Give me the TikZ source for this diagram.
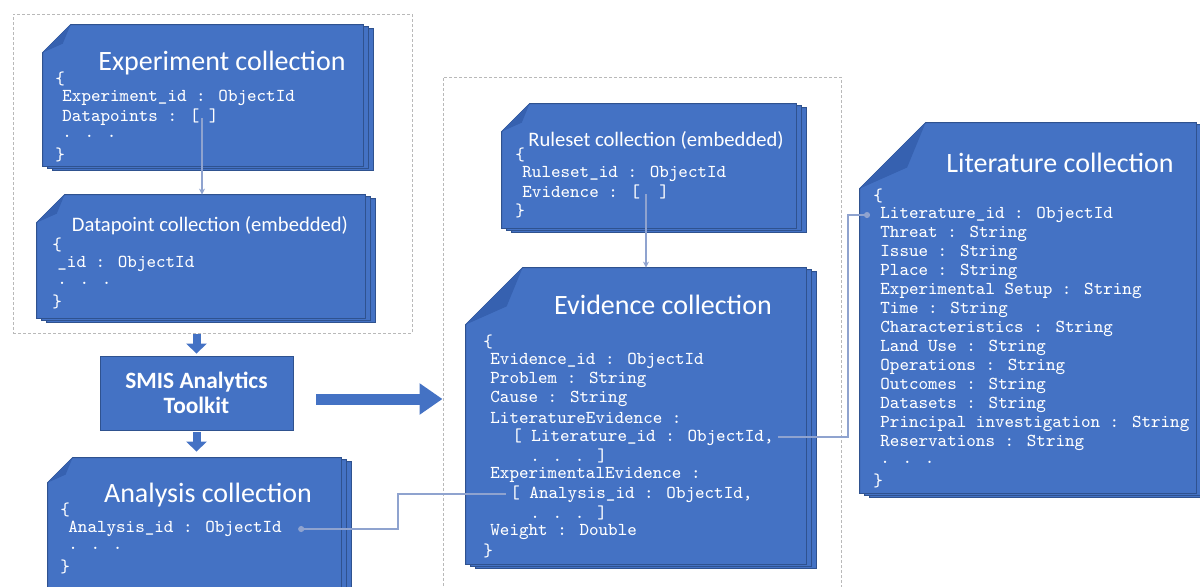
\documentclass[tikz,border=0pt]{standalone}
\usepackage{fontspec}
\setmainfont{Carlito}
\usetikzlibrary{calc}
\usetikzlibrary{fit}
\usetikzlibrary{arrows.meta}
\definecolor{collblue}{HTML}{4472C4}
\definecolor{colledge}{HTML}{2F528F}
\definecolor{collfold}{HTML}{3661B0}
\definecolor{linkblue}{RGB}{143,163,207}

\newcommand{\collshape}[2]{%
 \foreach \o/\p in {10/4,5/2}
  \filldraw[collback] ($(#1.north west)+(\o,#2+\p)$) -- ($(#1.north west)+(#2+\o,\p)$) -- ($(#1.north east)+(\o,\p)$) -- ($(#1.south east)+(\o,\p)$) -- ($(#1.south west)+(\o,\p)$) -- cycle;
 \filldraw[collback] ($(#1.north west)+(0,#2)$) -- ($(#1.north west)+(#2,0)$) -- (#1.north east) -- (#1.south east) -- (#1.south west) -- cycle;
 \fill[collfold] ($(#1.north west)+(0,#2)$) -- ($(#1.north west)+(#2,0)$) -- ($(#1.north west)+({.72*#2},{.68*#2})$) -- cycle;
}

\begin{document}
\begin{tikzpicture}[x=.5pt, y=-.5pt,
 grp/.style={draw=gray!55, line width=.5pt, dash pattern=on 1.5pt off 1pt, inner sep=0},
 area/.style={inner sep=0},
 collback/.style={fill=collblue, draw=colledge, line width=.4pt},
 colltitle/.style={text=white, font=\fontsize{14}{16}\selectfont},
 collsub/.style={text=white, font=\fontsize{10.3}{12}\selectfont},
 field/.style={text=white, anchor=west, inner sep=0, font=\ttfamily\fontsize{9.1}{10}\selectfont},
 link/.style={linkblue, line width=.8pt},
 blockarrow/.style={collblue, line width=4pt, -{Triangle[width=10pt,length=5pt]}},
]
\useasboundingbox (0,0) rectangle (1200,586);
\node[grp, fit={(13,14) (412,333)}] (grpl) {};
\node[grp, fit={(443,77) (841,620)}] (grpm) {};

\node[area, fit={(43,25) (363,166)}] (exp) {};
\node[area, fit={(37,195) (365,318)}] (dp) {};
\node[area, fit={(48,458) (341,600)}] (ana) {};
\node[area, fit={(502,104) (796,228)}] (rule) {};
\node[area, fit={(466,268) (806,564)}] (ev) {};
\node[area, fit={(860,123) (1196,493)}] (lit) {};
\collshape{exp}{28}
\collshape{dp}{28}
\collshape{ana}{25}
\collshape{rule}{28}
\collshape{ev}{57}
\collshape{lit}{66}

\node[colltitle] (exp-t) at (222,63) {Experiment collection};
\node[collsub] (dp-t) at (210,226) {Datapoint collection (embedded)};
\node[colltitle] (ana-t) at (208,495) {Analysis collection};
\node[collsub] (rule-t) at (656,140) {Ruleset collection (embedded)};
\node[colltitle] (ev-t) at (663,305) {Evidence collection};
\node[colltitle] (lit-t) at (1060,163) {Literature collection};

\foreach [count=\i] \dx/\t in {0/\{, 7/Experiment\_id : ObjectId, 7/Datapoints : [ ], 7/. . ., 0/\}}
 \node[field] (exp-\i) at ({55+\dx},{79+(\i-1)*19}) {\t};
\foreach [count=\i] \dx/\t in {0/\{, 5/\_id : ObjectId, 5/. . ., 0/\}}
 \node[field] (dp-\i) at ({52+\dx},{245+(\i-1)*19}) {\t};
\foreach [count=\i] \dx/\t in {0/\{, 8/Analysis\_id : ObjectId, 8/. . ., 0/\}}
 \node[field] (ana-\i) at ({60+\dx},{510+(\i-1)*19}) {\t};
\foreach [count=\i] \dx/\t in {0/\{, 7/Ruleset\_id : ObjectId, 7/Evidence : [\ \ ], 0/\}}
 \node[field] (rule-\i) at ({515+\dx},{155+(\i-1)*18.5}) {\t};
\foreach [count=\i] \dx/\t in {0/\{, 7/Evidence\_id : ObjectId, 7/Problem : String, 7/Cause : String,
  7/LiteratureEvidence :, 29/{[ Literature\_id : ObjectId,}, 47/. . . ], 7/ExperimentalEvidence :,
  27/{[ Analysis\_id : ObjectId,}, 47/. . . ], 7/Weight : Double, 0/\}}
 \node[field] (ev-\i) at ({483+\dx},{342+(\i-1)*19}) {\t};
\foreach [count=\i] \dx/\t in {0/\{, 7/Literature\_id : ObjectId, 7/Threat : String, 7/Issue : String,
  7/Place : String, 7/Experimental Setup : String, 7/Time : String, 7/Characteristics : String,
  7/Land Use : String, 7/Operations : String, 7/Outcomes : String, 7/Datasets : String,
  7/Principal investigation : String, 7/Reservations : String, 7/. . ., 0/\}}
 \node[field] (lit-\i) at ({873+\dx},{196+(\i-1)*19}) {\t};

\node[fill=collblue, draw=colledge, line width=.4pt, text=white, align=center, inner sep=0,
 font=\bfseries\fontsize{11.7}{12.5}\selectfont, minimum width=96.5pt, minimum height=37pt] (smis) at (196.5,393) {SMIS Analytics\\Toolkit};

\draw[blockarrow] (smis.north |- grpl.south) -- ([yshift=1pt]smis.north);
\draw[blockarrow] ([yshift=-1pt]smis.south) -- ([yshift=3pt]smis.south |- ana.north);
\draw[collblue, line width=5.5pt, -{Triangle[width=15pt,length=11.5pt]}] ($(smis.east)+(23,6)$) -- ($(smis.east -| grpm.west)+(0,6)$);

\coordinate (dp-link) at (202,118);
\coordinate (rule-link) at (646,194);
\coordinate (ana-bend) at (398,0);
\coordinate (lit-bend) at (848,0);
\draw[link, -{Stealth[length=3pt,width=3pt]}] (dp-link) -- (dp-link |- dp.north);
\draw[link, -{Stealth[length=3pt,width=3pt]}] (rule-link) -- (rule-link |- ev.north);
\draw[link, {Circle[length=3pt]}-] ([xshift=8pt]ana-2.east) -- (ana-2.east -| ana-bend) |- ([xshift=-2pt]ev-9.west);
\draw[link, -{Circle[length=3pt]}] ([xshift=2pt]ev-6.east) -- (ev-6.east -| lit-bend) |- ([xshift=-5pt]lit-2.west);
\end{tikzpicture}
\end{document}
